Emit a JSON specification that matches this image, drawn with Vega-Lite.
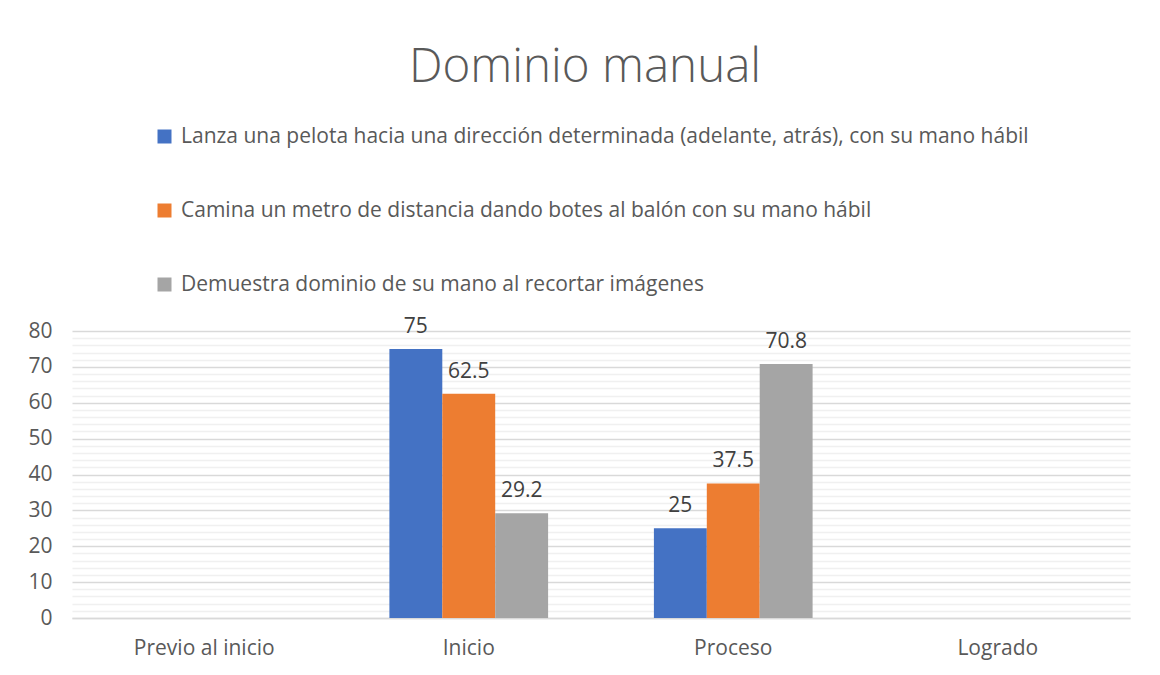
{
  "$schema": "https://vega.github.io/schema/vega-lite/v6.json",
  "width": 1058,
  "height": 287,
  "autosize": {"type": "none"},
  "padding": {"left": 72, "top": 331, "right": 30, "bottom": 57},
  "background": "white",
  "title": {
    "text": "Dominio manual",
    "font": "Open Sans",
    "fontSize": 47.5,
    "fontWeight": 300,
    "color": "#595959",
    "anchor": "middle",
    "dx": -16,
    "offset": 35
  },
  "data": {
    "values": [
      {"categoria": "Inicio", "serie": "Lanza una pelota hacia una dirección determinada (adelante, atrás), con su mano hábil", "orden": 1, "valor": 75},
      {"categoria": "Inicio", "serie": "Camina un metro de distancia dando botes al balón con su mano hábil", "orden": 2, "valor": 62.5},
      {"categoria": "Inicio", "serie": "Demuestra dominio de su mano al recortar imágenes", "orden": 3, "valor": 29.2},
      {"categoria": "Proceso", "serie": "Lanza una pelota hacia una dirección determinada (adelante, atrás), con su mano hábil", "orden": 1, "valor": 25},
      {"categoria": "Proceso", "serie": "Camina un metro de distancia dando botes al balón con su mano hábil", "orden": 2, "valor": 37.5},
      {"categoria": "Proceso", "serie": "Demuestra dominio de su mano al recortar imágenes", "orden": 3, "valor": 70.8}
    ]
  },
  "encoding": {
    "x": {
      "field": "categoria",
      "type": "nominal",
      "scale": {"domain": ["Previo al inicio", "Inicio", "Proceso", "Logrado"], "paddingInner": 0.4, "paddingOuter": 0.2},
      "axis": {
        "title": null,
        "labelAngle": 0,
        "labelFont": "Open Sans",
        "labelFontSize": 21,
        "labelColor": "#595959",
        "labelPadding": 19,
        "ticks": false,
        "domainColor": "#d9d9d9",
        "domainWidth": 1.5,
        "grid": false
      }
    },
    "xOffset": {"field": "orden", "type": "ordinal"},
    "y": {
      "field": "valor",
      "type": "quantitative",
      "scale": {"domain": [0, 80], "nice": false}
    }
  },
  "layer": [
    {
      "mark": {"type": "bar"},
      "encoding": {
        "y": {
          "field": "valor",
          "type": "quantitative",
          "axis": {
            "title": null,
            "values": [2,4,6,8,12,14,16,18,22,24,26,28,32,34,36,38,42,44,46,48,52,54,56,58,62,64,66,68,72,74,76,78],
            "labels": false,
            "ticks": false,
            "domain": false,
            "grid": true,
            "gridColor": "#f0f0f0",
            "gridWidth": 1.5
          }
        },
        "color": {
          "field": "serie",
          "type": "nominal",
          "sort": null,
          "scale": {
            "domain": [
              "Lanza una pelota hacia una dirección determinada (adelante, atrás), con su mano hábil",
              "Camina un metro de distancia dando botes al balón con su mano hábil",
              "Demuestra dominio de su mano al recortar imágenes"
            ],
            "range": ["#4472C4", "#ED7D31", "#A5A5A5"]
          },
          "legend": {
            "title": null,
            "orient": "none",
            "legendX": 82,
            "legendY": -205,
            "direction": "vertical",
            "symbolType": "square",
            "symbolSize": 196,
            "symbolStrokeWidth": 0,
            "labelFont": "Open Sans",
            "labelFontSize": 21,
            "labelColor": "#595959",
            "labelLimit": 1000,
            "rowPadding": 52,
            "labelOffset": 6
          }
        }
      }
    },
    {
      "mark": {"type": "text", "font": "Open Sans", "fontSize": 21, "color": "#404040", "baseline": "alphabetic", "dy": -16},
      "encoding": {
        "y": {
          "field": "valor",
          "type": "quantitative",
          "axis": {
            "title": null,
            "values": [0, 10, 20, 30, 40, 50, 60, 70, 80],
            "labelFont": "Open Sans",
            "labelFontSize": 21,
            "labelColor": "#595959",
            "labelPadding": 20,
            "ticks": false,
            "domain": false,
            "grid": true,
            "gridColor": "#d9d9d9",
            "gridWidth": 1.5,
            "orient": "left"
          }
        },
        "text": {"field": "valor", "type": "quantitative"}
      }
    }
  ],
  "resolve": {"axis": {"y": "independent"}},
  "config": {"view": {"stroke": null}}
}
